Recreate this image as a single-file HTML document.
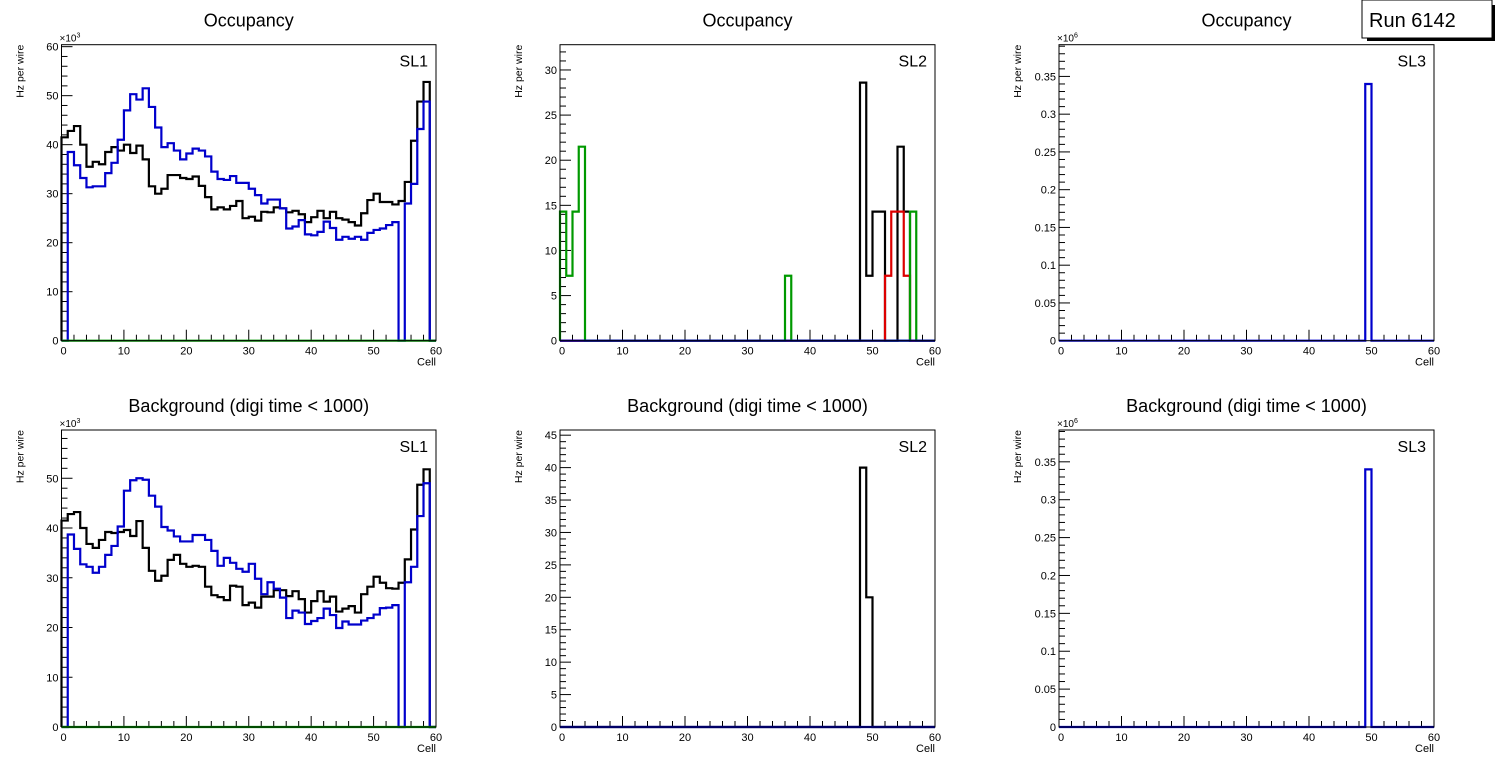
<!DOCTYPE html>
<html><head><meta charset="utf-8"><style>
body{margin:0;background:#fff;}
svg{display:block;font-family:"Liberation Sans",sans-serif;}
</style></head><body>
<svg id="c" width="1496" height="772" viewBox="0 0 1496 772"></svg>
<script>
// ---- data ----
const cells = Array.from({length:60},(_,i)=>i);
const p1Black = [41.5,42.8,43.8,40,35.5,36.5,36,38.5,39.5,38.8,40,38.3,39.8,37,31.5,30,31,33.8,33.8,33.2,33,33.5,31.6,29.3,26.8,27.2,26.8,27.5,28.5,25,25.3,24.5,26.3,26.2,27.2,27,26.2,26.5,25.8,24.2,25.2,26.5,25,26.3,25,24.7,24.2,23.5,26,28.7,30,28.3,28.3,27.8,28.5,32.4,40.8,48.8,52.8,0];
const p1Blue = [0,38.5,35.8,33.2,31.3,31.5,31.5,34.2,36.3,41,47,50.3,49.2,51.5,47.7,43.5,39.5,40.3,38.8,37,38.2,39.2,38.8,37.6,34.5,33,32.8,33.6,32.2,32.2,31,29.7,28,28.8,28.8,27,22.9,23.3,24.6,21.7,21.5,22.2,24.3,23,20.6,21.2,20.8,21.2,20.6,22,22.6,22.9,23.6,24.2,0,28,32,43.2,48.8,0];
const p4Black = [41.5,42.8,43.2,40,36.8,36,37.6,39.2,39,39.2,39.6,38.4,41.4,36,31.4,29.4,30.4,33.6,34.6,32.8,32.2,32.4,32.2,28.2,26.5,26.1,25.5,28.4,28.2,24.5,25,24,26.2,26.2,27.5,27.5,26.3,27.3,25.7,23,25.3,27.3,25.2,26.2,23.2,23.8,24.3,23,26.7,28.2,30.2,29,27.9,27.8,29,33.7,39.7,48.7,51.8,0];
const p4Blue = [0,38.7,35.8,32.7,32.2,31,32.2,34.6,36.4,40.3,47.5,49.6,50,49.7,46.5,44.3,40.2,39.5,38.3,37.3,37.3,38.6,38.6,37.6,35.4,32.4,34,33,31.8,31.2,32.8,29.8,26.7,29.1,27.8,26,21.9,23.4,23,20.7,21.3,21.9,23.8,22.5,19.9,21.2,20.6,20.6,21.4,21.9,22.6,23.9,24,24.5,0,29.1,32.2,42.4,49,0];
const zeros = new Array(60).fill(0);
const p2BlackIdx=[48,49,50,51,54,55], p2BlackVal=[28.6,7.2,14.3,14.3,21.5,14.3];
const p2RedIdx=[52,53,54,55], p2RedVal=[7.2,14.3,14.3,7.2];
const p2GreenIdx=[0,1,2,3,36,56], p2GreenVal=[14.3,7.2,14.3,21.5,7.2,14.3];
const p3BlueIdx=[49], p3BlueVal=[0.34];
const p5BlackIdx=[48,49], p5BlackVal=[40,20];
const p6BlueIdx=[49], p6BlueVal=[0.34];
const xTicks=[0,10,20,30,40,50,60];

function sparse(idx,val){const a=zeros.slice();idx.forEach((k,j)=>a[k]=val[j]);return a;}

const NS="http://www.w3.org/2000/svg";
const svg=document.getElementById('c');
function mk(tag,attrs,parent){const e=document.createElementNS(NS,tag);for(const k in attrs)e.setAttribute(k,attrs[k]);(parent||svg).appendChild(e);return e;}
function fmt(v,step){if(step<1){return v===0?"0":String(+v.toFixed(2)).replace(/^0\./,"0.");}return String(v);}

function panel(o){
  const g=mk('g',{});
  
  
  const L=o.x0,R=o.x1,T=o.top,B=o.bot;
  const sx=v=>L+(v/60)*(R-L);
  const sy=v=>B-(v/o.ymax)*(B-T);
  const t=mk('text',{x:(L+R)/2,y:T-18,'text-anchor':'middle','font-size':18,fill:'#000'},g);t.textContent=o.title;
  
  const yt=mk('text',{transform:`translate(${L-38},${T}) rotate(-90)`,'text-anchor':'end','font-size':10.5,fill:'#000'},g);yt.textContent='Hz per wire';
  
  const xt=mk('text',{x:R,y:B+25,'text-anchor':'end','font-size':11,fill:'#000'},g);xt.textContent='Cell';
  
  if(o.exp){const ex=mk('text',{x:L-2,y:T-3,'font-size':10,fill:'#000'},g);ex.innerHTML='×10<tspan dy="-4" font-size="7">'+o.exp+'</tspan>';
    }
  const sl=mk('text',{x:R-8,y:T+22,'text-anchor':'end','font-size':16,fill:'#000'},g);sl.textContent=o.sl;
  
  // x ticks
  for(let c=0;c<=60;c+=2){const maj=c%10===0;mk('line',{x1:sx(c),x2:sx(c),y1:B,y2:B-(maj?11:6),stroke:'#000','stroke-width':1},g);}
  xTicks.forEach(v=>{const tl=mk('text',{x:sx(v)+(v===0?2:0),y:B+14,'text-anchor':'middle','font-size':11,fill:'#000'},g);tl.textContent=v;
    });
  // y ticks
  const nMin=Math.round(o.ymax/o.minor);
  for(let i=0;i<=nMin;i++){const v=i*o.minor;if(v>o.ymax)break;const maj=Math.abs(v/o.major-Math.round(v/o.major))<1e-6;
    mk('line',{x1:L,x2:L+(maj?11:6),y1:sy(v),y2:sy(v),stroke:'#000','stroke-width':1},g);
    if(maj){const tl=mk('text',{x:L-3,y:sy(v)+4,'text-anchor':'end','font-size':11,fill:'#000'},g);tl.textContent=fmt(+v.toFixed(3),o.major);
      }}
  // series
  o.series.forEach(s=>{
    let d=`M${sx(0)},${sy(0)}`;
    cells.forEach((c,i)=>{d+=` L${sx(c)},${sy(s.v[i])} L${sx(c+1)},${sy(s.v[i])}`;});
    d+=` L${sx(60)},${sy(0)}`;
    const p=mk('path',{d:d,fill:'none',stroke:s.col,'stroke-width':2.2},g);
    
  });
  const fr=mk('rect',{x:L,y:T,width:R-L,height:B-T,fill:'none',stroke:'#000','stroke-width':1},g);
  
}
const TOP1=44.7,BOT1=340.7,TOP2=430,BOT2=727;
const X=[[61.5,436],[560,935],[1059,1434]];
const G='#009900',K='#000',BL='#0000cc',RD='#dd0000';
panel({name:'sl1-occupancy',x0:X[0][0],x1:X[0][1],top:TOP1,bot:BOT1,ymax:60.4,major:10,minor:2,exp:'3',title:'Occupancy',sl:'SL1',
  series:[{v:p1Black,col:K,name:'series-black'},{v:p1Blue,col:BL,name:'series-blue'},{v:zeros,col:G,name:'series-green'}]});
panel({name:'sl2-occupancy',x0:X[1][0],x1:X[1][1],top:TOP1,bot:BOT1,ymax:32.8,major:5,minor:1,title:'Occupancy',sl:'SL2',
  series:[{v:sparse(p2BlackIdx,p2BlackVal),col:K,name:'series-black'},{v:sparse(p2RedIdx,p2RedVal),col:RD,name:'series-red'},{v:sparse(p2GreenIdx,p2GreenVal),col:G,name:'series-green'},{v:zeros,col:BL,name:'series-blue'}]});
panel({name:'sl3-occupancy',x0:X[2][0],x1:X[2][1],top:TOP1,bot:BOT1,ymax:0.392,major:0.05,minor:0.01,exp:'6',title:'Occupancy',sl:'SL3',
  series:[{v:sparse(p3BlueIdx,p3BlueVal),col:BL,name:'series-blue'}]});
panel({name:'sl1-background',x0:X[0][0],x1:X[0][1],top:TOP2,bot:BOT2,ymax:59.7,major:10,minor:2,exp:'3',title:'Background (digi time < 1000)',sl:'SL1',
  series:[{v:p4Black,col:K,name:'series-black'},{v:p4Blue,col:BL,name:'series-blue'},{v:zeros,col:G,name:'series-green'}]});
panel({name:'sl2-background',x0:X[1][0],x1:X[1][1],top:TOP2,bot:BOT2,ymax:45.8,major:5,minor:1,title:'Background (digi time < 1000)',sl:'SL2',
  series:[{v:sparse(p5BlackIdx,p5BlackVal),col:K,name:'series-black'},{v:zeros,col:BL,name:'series-blue'}]});
panel({name:'sl3-background',x0:X[2][0],x1:X[2][1],top:TOP2,bot:BOT2,ymax:0.392,major:0.05,minor:0.01,exp:'6',title:'Background (digi time < 1000)',sl:'SL3',
  series:[{v:sparse(p6BlueIdx,p6BlueVal),col:BL,name:'series-blue'}]});
// run box
const rb=mk('g',{});


mk('rect',{x:1367,y:5,width:128,height:36,fill:'#000'},rb);
mk('rect',{x:1362,y:0,width:130,height:38,fill:'#fff',stroke:'#000','stroke-width':1},rb);
const rt=mk('text',{x:1369,y:27,'font-size':20,fill:'#000'},rb);rt.textContent='Run 6142';
</script>
</body></html>
